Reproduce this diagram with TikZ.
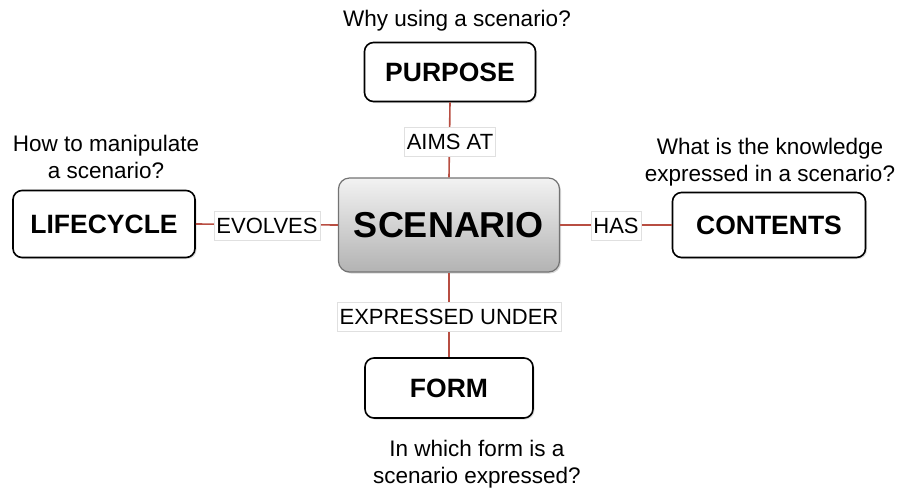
\documentclass[tikz,border=0pt]{standalone}
\usepackage{fontspec}
\setmainfont{Liberation Sans}
\usetikzlibrary{shadows}
\definecolor{linkred}{RGB}{184,78,66}
\begin{document}
\begin{tikzpicture}[x=1pt,y=-1pt,
  topic/.style={draw=black, line width=1.6pt, rounded corners=9pt, fill=white,
    font=\fontsize{26.5}{30}\selectfont\bfseries, inner sep=0pt,
    drop shadow={opacity=0.25, shadow xshift=1.5pt, shadow yshift=-1.5pt}},
  central/.style={draw=black!55, line width=1.2pt, rounded corners=11pt,
    top color=black!5, bottom color=black!30,
    font=\fontsize{36}{40}\selectfont\bfseries, inner sep=0pt,
    drop shadow={opacity=0.3, shadow xshift=1.5pt, shadow yshift=-1.5pt}},
  rel/.style={draw=black!12, fill=white, line width=0.6pt, inner xsep=2.5pt,
    minimum height=29pt, font=\fontsize{22}{26}\selectfont},
  question/.style={align=center, font=\fontsize{22.5}{27.5}\selectfont},
  link/.style={draw=linkred, line width=1.6pt}]
\useasboundingbox (0,0) rectangle (900,491);
\node[central, minimum width=221pt, minimum height=94pt] (scen) at (449,225) {SCENARIO};
\node[topic, minimum width=171pt, minimum height=59pt] (purpose) at (450,72) {PURPOSE};
\node[topic, minimum width=193pt, minimum height=65pt] (contents) at (769,225) {CONTENTS};
\node[topic, minimum width=182pt, minimum height=67pt] (life) at (104,224) {LIFECYCLE};
\node[topic, minimum width=168pt, minimum height=60pt] (form) at (449,388) {FORM};
\draw[link] (scen.north) -- (purpose.south);
\draw[link] (scen.east) -- (contents.west);
\draw[link] (scen.west) -- (life.east);
\draw[link] (scen.south) -- (form.north);
\node[rel] (aims) at (450,142) {AIMS AT};
\node[rel] (has) at (616,226) {HAS};
\node[rel] (evolves) at (267,226) {EVOLVES};
\node[rel] (expr) at (449,317) {EXPRESSED UNDER};
\node[question] (q1) at (457,21) {Why using a scenario?};
\node[question] (q2) at (106,157) {How to manipulate\\a scenario?};
\node[question] (q3) at (770,162) {What is the knowledge\\expressed in a scenario?};
\node[question] (q4) at (477,464) {In which form is a\\scenario expressed?};
\end{tikzpicture}
\end{document}
